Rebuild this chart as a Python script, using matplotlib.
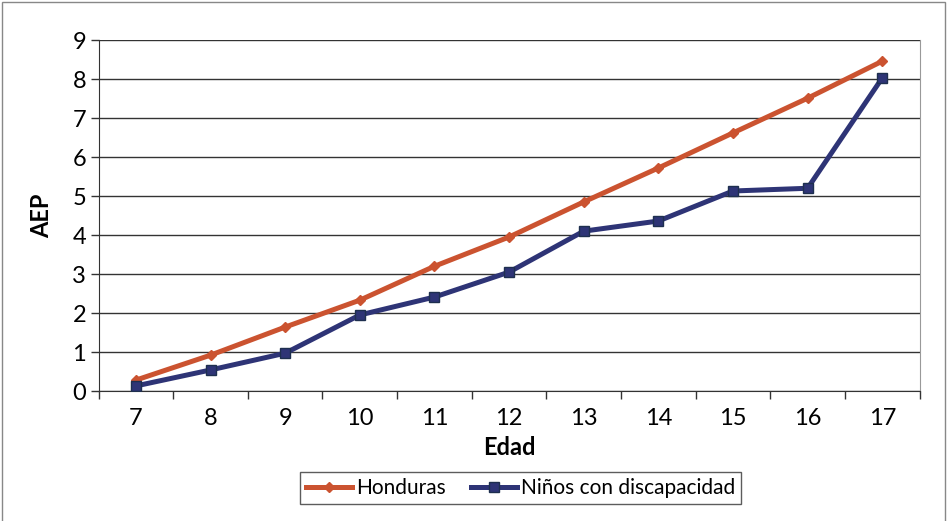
import matplotlib
matplotlib.use("Agg")
import matplotlib.pyplot as plt
from matplotlib.patches import Rectangle
import numpy as np

edades = ["7", "8", "9", "10", "11", "12", "13", "14", "15", "16", "17"]
honduras = [0.28, 0.92, 1.64, 2.33, 3.2, 3.95, 4.85, 5.72, 6.62, 7.51, 8.46]
discapacidad = [0.13, 0.54, 0.97, 1.95, 2.41, 3.05, 4.1, 4.36, 5.13, 5.2, 8.03]

plt.rcParams["font.family"] = ["Lato", "DejaVu Sans"]

fig = plt.figure(figsize=(9.48, 5.21), dpi=100)
ax = fig.add_axes([0.104, 0.2495, 0.866, 0.6735])

x = np.arange(len(edades))
ax.plot(x, honduras, color="#CB5330", lw=3.6, marker="D", ms=5,
        mec="#CB5330", mfc="#CB5330", label="Honduras", zorder=3)
ax.plot(x, discapacidad, color="#2E3476", lw=3.6, marker="s", ms=7.5,
        mec="#1E2F4F", mfc="#2E3476", label="Niños con discapacidad", zorder=3)

ax.set_xlim(-0.5, len(edades) - 0.5)
ax.set_ylim(0, 9)
ax.set_yticks(range(0, 10))
ax.set_xticks(x)
ax.set_xticklabels(edades)
ax.set_xticks(np.arange(-0.5, len(edades)), minor=True)
ax.tick_params(axis="x", which="major", length=0, pad=12, labelsize=17)
ax.tick_params(axis="x", which="minor", length=6, width=1, color="#333333")
ax.tick_params(axis="y", length=6, width=1, color="#333333", labelsize=17, pad=3)
ax.grid(axis="y", color="#333333", lw=1)
ax.set_axisbelow(True)
ax.spines["top"].set_visible(False)
ax.spines["right"].set_color("#999999")
ax.spines["left"].set_color("#333333")
ax.spines["bottom"].set_color("#333333")

ax.set_xlabel("Edad", fontsize=17, fontweight="bold", labelpad=5)
ax.set_ylabel("AEP", fontsize=17, fontweight="bold", labelpad=14)

leg = fig.legend(loc="center", bbox_to_anchor=(0.549, 0.063), ncol=2,
                 frameon=True, fancybox=False, fontsize=15, handlelength=2.2,
                 handletextpad=0.2, columnspacing=1.2, borderpad=0.3)
leg.get_frame().set_edgecolor("#333333")
leg.get_frame().set_linewidth(1)

fig.patches.append(Rectangle((0.002, -0.01), 0.995, 1.006, transform=fig.transFigure,
                             fill=False, edgecolor="#888888", lw=1))

fig.savefig("out.png", dpi=100)
